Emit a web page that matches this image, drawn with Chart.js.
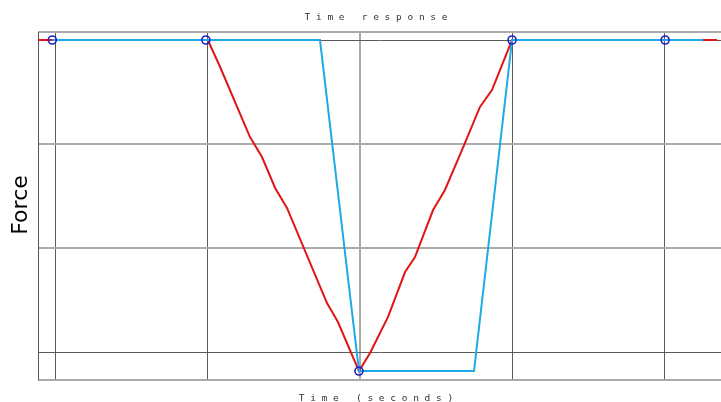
<!DOCTYPE html>
<html>
<head>
<meta charset="utf-8">
<script src="https://cdn.jsdelivr.net/npm/chart.js@4/dist/chart.umd.min.js"></script>
<style>
  html, body { margin: 0; padding: 0; background: #fff; overflow: hidden; }
  canvas { display: block; }
</style>
</head>
<body>
<canvas id="grafica" width="721" height="402"></canvas>
<script>
// Datos (tiempo en s, fuerza en unidades de la rejilla)
const tiempoRojo = [-2.116, -2.022, -1.0, -0.920, -0.723, -0.644, -0.558, -0.480, -0.217, -0.145, -0.007,
  0.066, 0.184, 0.296, 0.361, 0.480, 0.558, 0.690, 0.788, 0.867, 0.999, 2.346];
const fuerzaRoja = [3, 3, 3, 2.743, 2.067, 1.875, 1.577, 1.385, 0.471, 0.288, -0.183,
  -0.010, 0.337, 0.769, 0.913, 1.365, 1.558, 2.010, 2.356, 2.519, 3, 3];

const tiempoAzul = [-2.022, -0.263, -0.007, 0.749, 0.999, 2.254];
const fuerzaAzul = [3, 3, -0.183, -0.183, 3, 3];

const tiempoMarcas = [-2.022, -1.013, -0.007, 0.999, 2.005];
const fuerzaMarcas = [3, 3, -0.183, 3, 3];

const ticksX = [-2, -1, 0, 1, 2];
const ticksY = [0, 1, 2, 3];

const titulo = 'T i m e   r e s p o n s e';
const etiquetaX = 'T i m e   ( s e c o n d s )';
const etiquetaY = 'Force';

const aPuntos = (xs, ys) => xs.map((x, i) => ({ x, y: ys[i] }));

// Marco del area y textos
const marcoYTextos = {
  id: 'marcoYTextos',
  beforeDatasetsDraw(chart) {
    const { ctx, chartArea: a } = chart;
    ctx.save();
    ctx.strokeStyle = '#ababab';
    ctx.lineWidth = 2;
    ctx.beginPath();
    ctx.moveTo(a.left, a.top); ctx.lineTo(a.right, a.top);
    ctx.moveTo(a.left, a.bottom); ctx.lineTo(a.right, a.bottom);
    ctx.stroke();
    ctx.strokeStyle = '#555';
    ctx.lineWidth = 1;
    ctx.beginPath();
    ctx.moveTo(a.left + 0.5, a.top); ctx.lineTo(a.left + 0.5, a.bottom);
    ctx.stroke();
    ctx.restore();
  },
  afterDraw(chart) {
    const { ctx } = chart;
    ctx.save();
    ctx.fillStyle = '#333';
    ctx.textAlign = 'center';
    ctx.textBaseline = 'alphabetic';
    ctx.font = '9.5px "DejaVu Sans Mono"';
    ctx.fillText(titulo, 376, 20);
    ctx.fillText(etiquetaX, 376, 401);

    ctx.fillStyle = '#000';
    ctx.font = '22px "DejaVu Sans"';
    ctx.translate(27, 205);
    ctx.rotate(-Math.PI / 2);
    ctx.fillText(etiquetaY, 0, 0);
    ctx.restore();
  }
};

new Chart(document.getElementById('grafica'), {
  type: 'line',
  data: {
    datasets: [
      {
        label: 'marcas',
        data: aPuntos(tiempoMarcas, fuerzaMarcas),
        showLine: false,
        pointStyle: 'circle',
        pointRadius: 4,
        pointBorderWidth: 1.6,
        pointBorderColor: '#1c1cc8',
        pointBackgroundColor: 'rgba(0,0,0,0)'
      },
      {
        label: 'azul',
        data: aPuntos(tiempoAzul, fuerzaAzul),
        borderColor: '#1fa9e6',
        borderWidth: 2,
        pointRadius: 0,
        tension: 0
      },
      {
        label: 'roja',
        data: aPuntos(tiempoRojo, fuerzaRoja),
        borderColor: '#e01515',
        borderWidth: 2,
        pointRadius: 0,
        tension: 0
      }
    ]
  },
  options: {
    responsive: false,
    animation: false,
    devicePixelRatio: 1,
    layout: { autoPadding: false, padding: { left: 38, top: 32, right: 0, bottom: 22 } },
    plugins: {
      legend: { display: false },
      tooltip: { enabled: false },
      title: { display: false }
    },
    scales: {
      x: {
        type: 'linear',
        min: -2.116,
        max: 2.372,
        afterBuildTicks: s => { s.ticks = ticksX.map(v => ({ value: v })); },
        ticks: { display: false },
        border: { display: false },
        grid: {
          drawTicks: false,
          color: c => c.tick && c.tick.value === 0 ? '#ababab' : '#5a5a5a',
          lineWidth: c => c.tick && c.tick.value === 0 ? 2 : 1
        }
      },
      y: {
        type: 'linear',
        min: -0.269,
        max: 3.077,
        afterBuildTicks: s => { s.ticks = ticksY.map(v => ({ value: v })); },
        ticks: { display: false },
        border: { display: false },
        grid: {
          drawTicks: false,
          color: c => c.tick && (c.tick.value === 1 || c.tick.value === 2) ? '#ababab' : '#5a5a5a',
          lineWidth: c => c.tick && (c.tick.value === 1 || c.tick.value === 2) ? 2 : 1
        }
      }
    }
  },
  plugins: [marcoYTextos]
});
</script>
</body>
</html>
